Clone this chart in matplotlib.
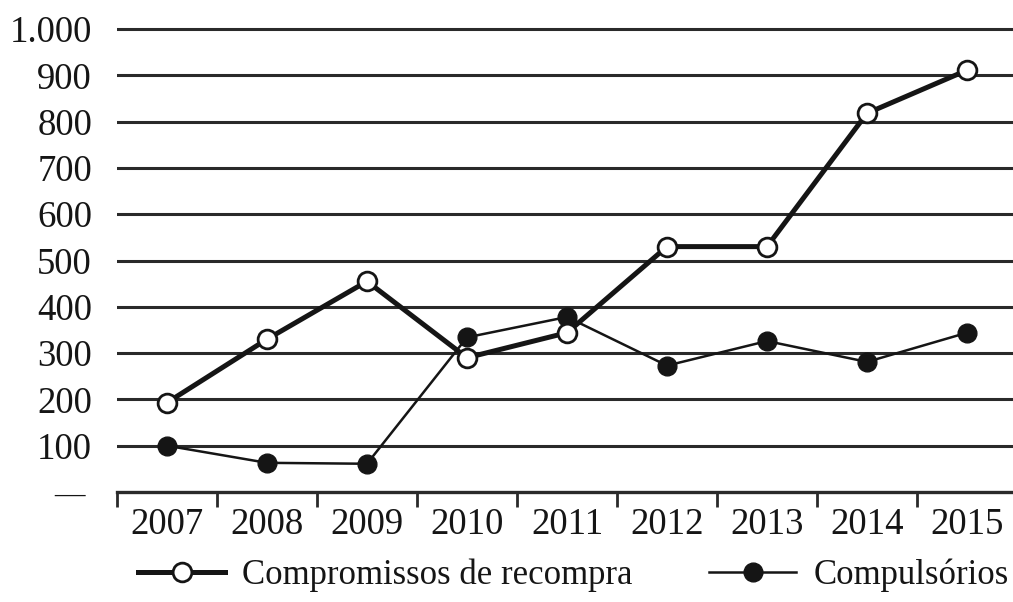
import matplotlib
matplotlib.use('Agg')
import matplotlib.pyplot as plt
from matplotlib.lines import Line2D

plt.rcParams['font.family'] = ['Liberation Serif', 'DejaVu Serif']

# Valores anuais das duas séries
anos = ['2007', '2008', '2009', '2010', '2011', '2012', '2013', '2014', '2015']
compromissos = [193, 330, 455, 290, 344, 530, 530, 818, 911]
compulsorios = [100, 63, 61, 334, 378, 273, 326, 281, 344]
yticks = [0, 100, 200, 300, 400, 500, 600, 700, 800, 900, 1000]
ylabels = ['— ', '100', '200', '300', '400', '500', '600', '700', '800', '900', '1.000']

fig = plt.figure(figsize=(10.13, 6.02), dpi=100)
ymax = 1020
ax = fig.add_axes([117 / 1013, 1 - 492 / 602, 900 / 1013, (492 - 29) / 602 * ymax / 1000])

x = list(range(len(anos)))
ink = '#151515'

# linhas de grade horizontais
for v in yticks[1:]:
    ax.axhline(v, color='#2a2a2a', lw=2.2, zorder=1)

ax.plot(x, compulsorios, color=ink, lw=1.8, marker='o', ms=13.5,
        mfc=ink, mec=ink, zorder=3, clip_on=False)
ax.plot(x, compromissos, color=ink, lw=3.6, marker='o', ms=13.5,
        mfc='white', mec=ink, mew=2.0, zorder=4, clip_on=False)

ax.set_xlim(-0.5, 8.5)
ax.set_ylim(0, ymax)

for s in ['top', 'right', 'left']:
    ax.spines[s].set_visible(False)
ax.spines['bottom'].set_linewidth(2.4)
ax.spines['bottom'].set_color('#2a2a2a')

ax.set_xticks(x)
ax.set_xticklabels(anos, fontsize=26.5, color=ink)
ax.set_xticks([i - 0.5 for i in range(len(anos) + 1)], minor=True)
ax.tick_params(axis='x', which='major', length=0, pad=11)
ax.tick_params(axis='x', which='minor', length=11, width=2, color='#2a2a2a', direction='out')

ax.set_yticks(yticks)
ax.set_yticklabels(ylabels, fontsize=26.5, color=ink)
ax.tick_params(axis='y', length=0, pad=18)
# o traço do zero fica um pouco menor
ax.get_yticklabels()[0].set_fontsize(22)

handles = [
    Line2D([0], [0], color=ink, lw=3.6, marker='o', ms=13.5, mfc='white', mec=ink, mew=2.0),
    Line2D([0], [0], color=ink, lw=1.8, marker='o', ms=13.5, mfc=ink, mec=ink),
]
fig.legend(handles, ['Compromissos de recompra', 'Compulsórios'],
           loc='center', bbox_to_anchor=(0.566, 0.045), ncol=2, frameon=False,
           fontsize=25, handlelength=2.5, handletextpad=0.5, columnspacing=2.2,
           labelcolor=ink)

fig.savefig('out.png', dpi=100)
